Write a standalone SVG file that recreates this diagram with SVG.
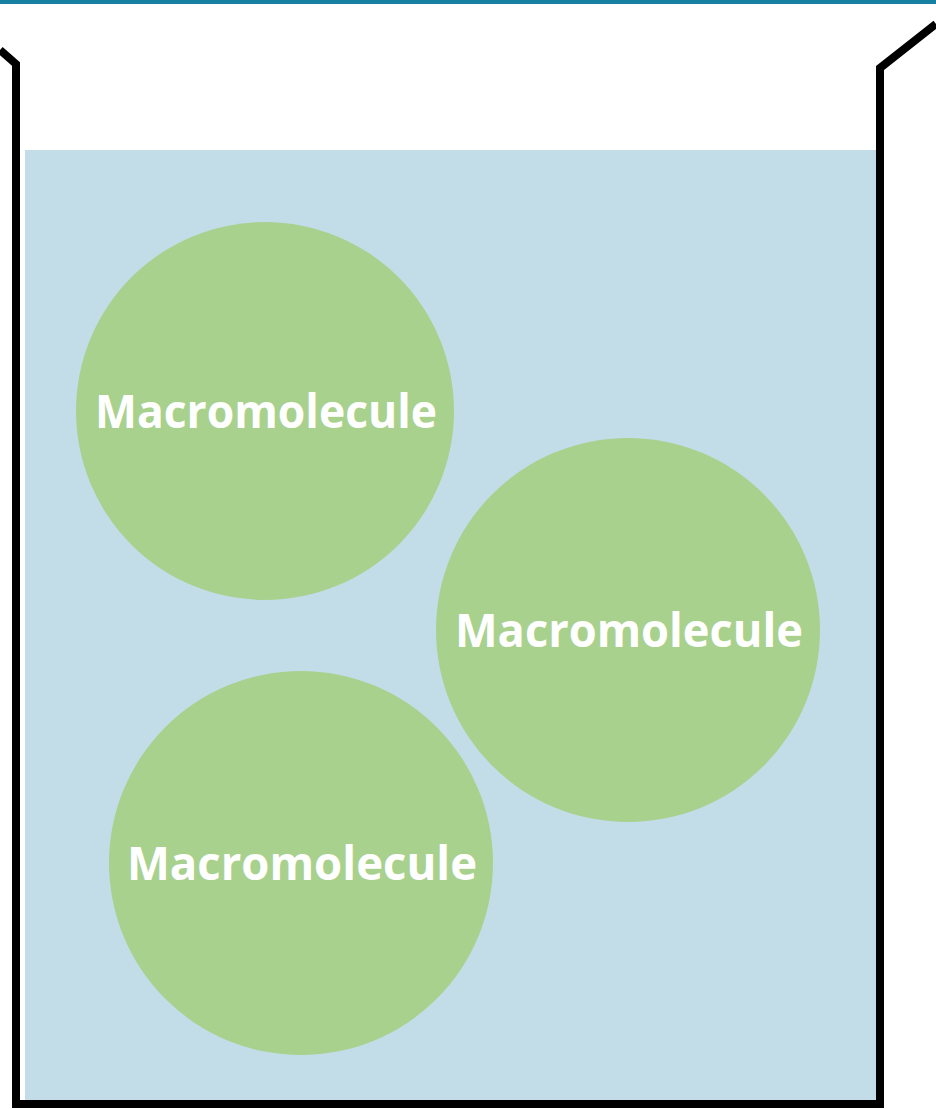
<svg xmlns="http://www.w3.org/2000/svg" width="936" height="1109" viewBox="0 0 936 1109">
<style>
.wall{fill:none;stroke:#000;stroke-width:8;stroke-linejoin:miter;stroke-linecap:butt}
.mol{fill:#a9d18e}
.lbl{fill:#fff;font-family:"Open Sans","Liberation Sans",sans-serif;font-weight:700;font-size:46px;text-anchor:middle}
</style>
<rect x="0" y="0" width="936" height="1109" fill="#fff"/>
<rect x="0" y="0" width="936" height="4" fill="#15809f"/>
<rect x="25" y="150" width="851" height="952" fill="#c3dde8"/>
<g id="beaker">
<path class="wall" d="M0,50 L16,64 L16,1104 L880,1104 L880,68 L936,24"/>
</g>
<g id="mol1"><circle class="mol" cx="265" cy="411" r="189"/><text class="lbl" x="266" y="428" textLength="342" lengthAdjust="spacingAndGlyphs">Macromolecule</text></g>
<g id="mol2"><circle class="mol" cx="628" cy="630" r="192"/><text class="lbl" x="629" y="647" textLength="348" lengthAdjust="spacingAndGlyphs">Macromolecule</text></g>
<g id="mol3"><circle class="mol" cx="301" cy="863" r="192"/><text class="lbl" x="302" y="880" textLength="350" lengthAdjust="spacingAndGlyphs">Macromolecule</text></g>
<g id="connectors"></g>
</svg>
